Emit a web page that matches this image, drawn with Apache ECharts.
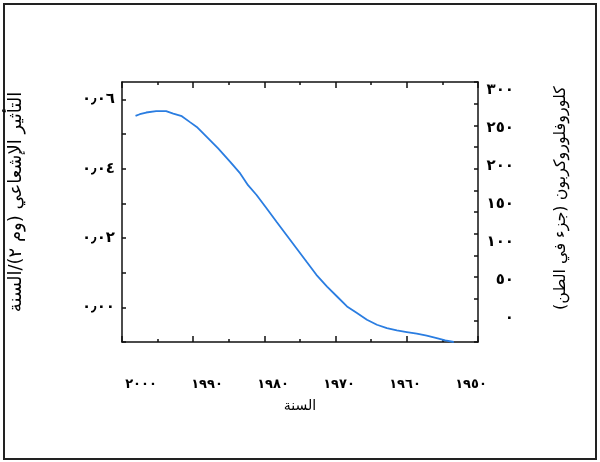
<!DOCTYPE html>
<html>
<head>
<meta charset="utf-8">
<script src="https://cdn.jsdelivr.net/npm/echarts@6/dist/echarts.min.js"></script>
<style>
html,body{margin:0;padding:0;background:#fff;}
#c{width:600px;height:462px;}
</style>
</head>
<body>
<div id="c" dir="rtl"></div>
<script>
// Data
const years = [1998.1,1997.5,1996.6,1995.2,1993.8,1992.8,1991.6,1990.5,1989.5,1988.1,1986.5,1984.8,1983.4,1982.3,1981.1,1979.7,1978.3,1976.9,1975.5,1974.1,1972.7,1971.2,1969.8,1968.4,1967.0,1965.6,1964.2,1962.8,1961.4,1960.0,1958.6,1957.2,1955.8,1954.6,1953.4];
const cfcPpt = [260.9,262.8,264.8,266.3,266.3,263.6,260.5,254.0,248.2,236.7,223.3,207.9,194.5,181.0,169.6,154.3,138.8,123.5,108.2,92.8,77.5,64.0,52.5,41.0,33.4,25.7,19.9,16.1,13.4,11.5,9.6,7.3,4.6,1.8,0];
const xTickLabels = {2000:'٢٠٠٠',1990:'١٩٩٠',1980:'١٩٨٠',1970:'١٩٧٠',1960:'١٩٦٠',1950:'١٩٥٠'};
const leftTickLabels = {0:'٠٫٠٠',2:'٠٫٠٢',4:'٠٫٠٤',6:'٠٫٠٦'};
const rightTickLabels = {0:'٠',50:'٥٠',100:'١٠٠',150:'١٥٠',200:'٢٠٠',250:'٢٥٠',300:'٣٠٠'};
const xTitle = 'السنة';
const leftTitle = 'التأثير الإشعاعي (وم ٢)/السنة';
const rightTitle = 'كلوروفلوروكربون (جزء في الطن)';

const FONT = 'DejaVu Sans';
const lineStyle = {color:'#111', width:1.5};
const tickStyle = {color:'#111', width:1.5};
const chart = echarts.init(document.getElementById('c'), null, {renderer:'canvas'});
const seriesData = years.map((y,i)=>[y,cfcPpt[i]]);

chart.setOption({
  animation:false,
  backgroundColor:'#fff',
  grid:[
    {left:122, right:122, top:82, bottom:120},   // main plot
    {left:122, right:122, top:90, bottom:144},   // right label grid
    {left:141, right:129, top:82, bottom:120}    // x label grid
  ],
  xAxis:[
    {gridIndex:0, type:'value', min:1950, max:2000, interval:10, inverse:true, position:'bottom',
     axisLine:{show:true, onZero:false, lineStyle},
     axisTick:{show:true, inside:true, length:6, lineStyle:tickStyle},
     minorTick:{show:true, splitNumber:2, length:3, lineStyle:tickStyle},
     axisLabel:{show:false}, splitLine:{show:false},
     name:xTitle, nameLocation:'middle', nameGap:57,
     nameTextStyle:{fontFamily:FONT,fontSize:14,color:'#000'}},
    {gridIndex:0, type:'value', min:1950, max:2000, interval:10, inverse:true, position:'top',
     axisLine:{show:true, onZero:false, lineStyle},
     axisTick:{show:true, inside:true, length:6, lineStyle:tickStyle},
     minorTick:{show:true, splitNumber:2, length:3, lineStyle:tickStyle},
     axisLabel:{show:false}, splitLine:{show:false}},
    {gridIndex:1, type:'value', min:1950, max:2000, show:false},
    {gridIndex:2, type:'value', min:1950, max:2000, interval:10, inverse:true, position:'bottom',
     axisLine:{show:false, onZero:false}, axisTick:{show:false}, splitLine:{show:false},
     axisLabel:{margin:36, fontFamily:FONT, fontSize:13, fontWeight:'bold', color:'#000',
       formatter:v=>xTickLabels[Math.round(v)]||''}}
  ],
  yAxis:[
    {gridIndex:0, type:'value', min:-0.01, max:0.065, interval:0.01, position:'left',
     axisLine:{show:true, onZero:false, lineStyle},
     axisTick:{show:true, inside:true, length:4, lineStyle:tickStyle}, splitLine:{show:false},
     axisLabel:{margin:7, fontFamily:FONT, fontSize:15, fontWeight:'bold', color:'#000',
       showMaxLabel:false,
       formatter:v=>{const k=Math.round(v*100); return leftTickLabels[k]||'';}}},
    {gridIndex:0, type:'value', min:0, max:300, interval:25, position:'right',
     axisLine:{show:true, onZero:false, lineStyle},
     axisTick:{show:true, inside:true, length:4, lineStyle:tickStyle}, splitLine:{show:false},
     axisLabel:{show:false}},
    {gridIndex:1, type:'value', min:0, max:300, interval:50, position:'right',
     axisLine:{show:false, onZero:false}, axisTick:{show:false}, splitLine:{show:false},
     axisLabel:{margin:36, align:'right', fontFamily:FONT, fontSize:15, fontWeight:'bold', color:'#000',
       formatter:v=>rightTickLabels[Math.round(v)]||''}},
    {gridIndex:2, type:'value', show:false}
  ],
  graphic:[
    {type:'rect', shape:{x:4,y:4,width:592,height:455}, style:{fill:'none',stroke:'#222',lineWidth:2}, silent:true},
    {type:'text', x:16, y:202, rotation:Math.PI/2,
     style:{text:leftTitle, fontFamily:FONT, fontSize:18, fill:'#000', align:'center', verticalAlign:'middle'}},
    {type:'text', x:561, y:198, rotation:Math.PI/2,
     style:{text:rightTitle, fontFamily:FONT, fontSize:16, fill:'#000', align:'center', verticalAlign:'middle'}}
  ],
  series:[
    {type:'line', xAxisIndex:0, yAxisIndex:1, data:seriesData, showSymbol:false, clip:true,
     lineStyle:{color:'#2a7de1', width:1.8}}
  ]
});
</script>
</body>
</html>
